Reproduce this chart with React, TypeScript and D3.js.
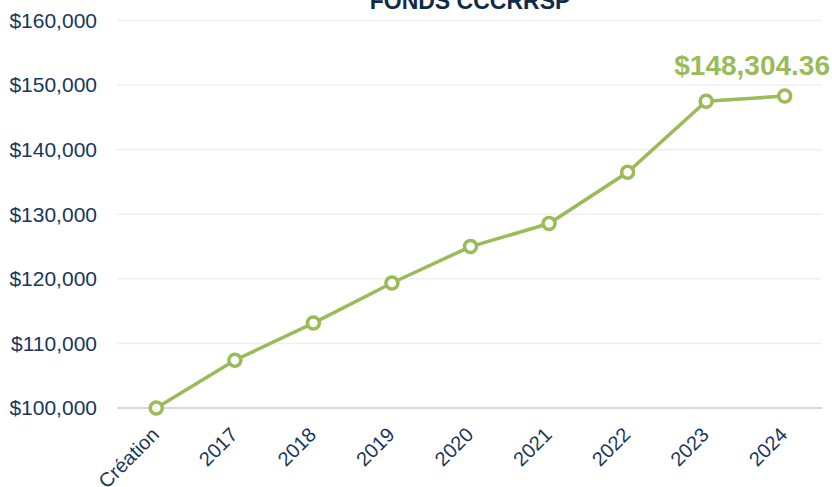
import React from "react";
import * as d3 from "d3";

const categories = ["Création", "2017", "2018", "2019", "2020", "2021", "2022", "2023", "2024"];
const values = [100000, 107400, 113150, 119350, 125000, 128560, 136500, 147500, 148304.36];
const yTicks = [100000, 110000, 120000, 130000, 140000, 150000, 160000];
const title = "FONDS CCCRRSP";
const lastLabel = "$148,304.36";

const W = 832;
const H = 487;
const GREEN = "#9bbb59";
const NAVY = "#17375e";

export default function App() {
  const x = d3.scaleBand<string>().domain(categories).range([117, 824]);
  const y = d3.scaleLinear().domain([100000, 160000]).range([408, 20.5]);
  const cx = (c: string) => (x(c) as number) + x.bandwidth() / 2;
  const line = d3
    .line<number>()
    .x((_, i) => cx(categories[i]))
    .y((d) => y(d));
  const fmt = (v: number) => "$" + d3.format(",")(v);

  return (
    <svg
      width={W}
      height={H}
      style={{ position: "absolute", left: 0, top: 0, background: "#fff" }}
      fontFamily="'Liberation Sans', Arial, sans-serif"
    >
      {yTicks.map((t) => (
        <g key={t}>
          <line
            x1={117}
            x2={822}
            y1={y(t)}
            y2={y(t)}
            stroke={t === 100000 ? "#d9d9d9" : "#efefef"}
            strokeWidth={t === 100000 ? 2 : 1.5}
          />
          <text x={97} y={y(t)} dy="0.35em" textAnchor="end" fontSize={21} fill={NAVY}>
            {fmt(t)}
          </text>
        </g>
      ))}
      <text x={470} y={9} textAnchor="middle" fontSize={23} fontWeight="bold" fill="#0f2b4a">
        {title}
      </text>
      <path d={line(values) || ""} fill="none" stroke={GREEN} strokeWidth={3.5} />
      {values.map((v, i) => (
        <circle key={i} cx={cx(categories[i])} cy={y(v)} r={6} fill="#fff" stroke={GREEN} strokeWidth={3.5} />
      ))}
      {categories.map((c) => (
        <text
          key={c}
          transform={`translate(${cx(c) + 4},${436}) rotate(-45)`}
          textAnchor="end"
          fontSize={20}
          fill={NAVY}
        >
          {c}
        </text>
      ))}
      <text x={830} y={75} textAnchor="end" fontSize={28} fontWeight="bold" fill={GREEN}>
        {lastLabel}
      </text>
    </svg>
  );
}
